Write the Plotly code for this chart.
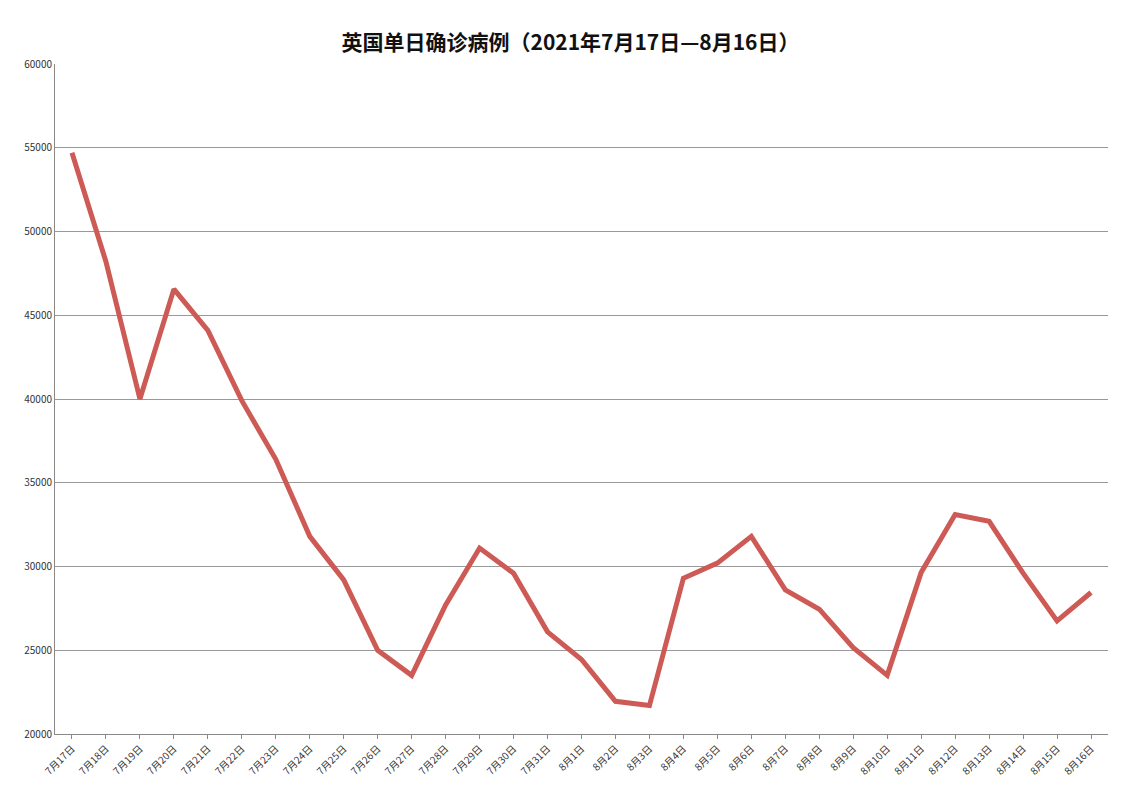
import plotly.graph_objects as go

dates = ["7月17日", "7月18日", "7月19日", "7月20日", "7月21日", "7月22日", "7月23日", "7月24日",
         "7月25日", "7月26日", "7月27日", "7月28日", "7月29日", "7月30日", "7月31日", "8月1日",
         "8月2日", "8月3日", "8月4日", "8月5日", "8月6日", "8月7日", "8月8日", "8月9日",
         "8月10日", "8月11日", "8月12日", "8月13日", "8月14日", "8月15日", "8月16日"]
cases = [54700, 48200, 40000, 46560, 44100, 39900, 36400, 31800,
         29200, 25000, 23500, 27700, 31100, 29600, 26100, 24450,
         21950, 21700, 29300, 30200, 31800, 28600, 27450, 25150,
         23500, 29650, 33100, 32700, 29600, 26750, 28450]

fig = go.Figure(go.Scatter(x=dates, y=cases, mode="lines",
                           line=dict(color="#cd5a55", width=5)))
fig.update_layout(
    title=dict(text="<b>英国单日确诊病例（2021年7月17日—8月16日）</b>", x=0.5, y=0.965,
               font=dict(size=21, color="#111")),
    font=dict(family="Noto Sans CJK SC, sans-serif", size=10, color="#333"),
    width=1125, height=794, margin=dict(l=47, r=25, t=56, b=68),
    plot_bgcolor="white", paper_bgcolor="white", showlegend=False,
)
fig.update_xaxes(tickangle=-45, showgrid=False, showline=True, linecolor="#888",
                 ticks="outside", ticklen=4, tickcolor="#888", range=[-0.5, 30.5])
fig.update_yaxes(range=[20000, 60000], dtick=5000, gridcolor="#999", gridwidth=1,
                 showline=True, linecolor="#888", tickformat="d", zeroline=False)
fig.write_html("out.html")
